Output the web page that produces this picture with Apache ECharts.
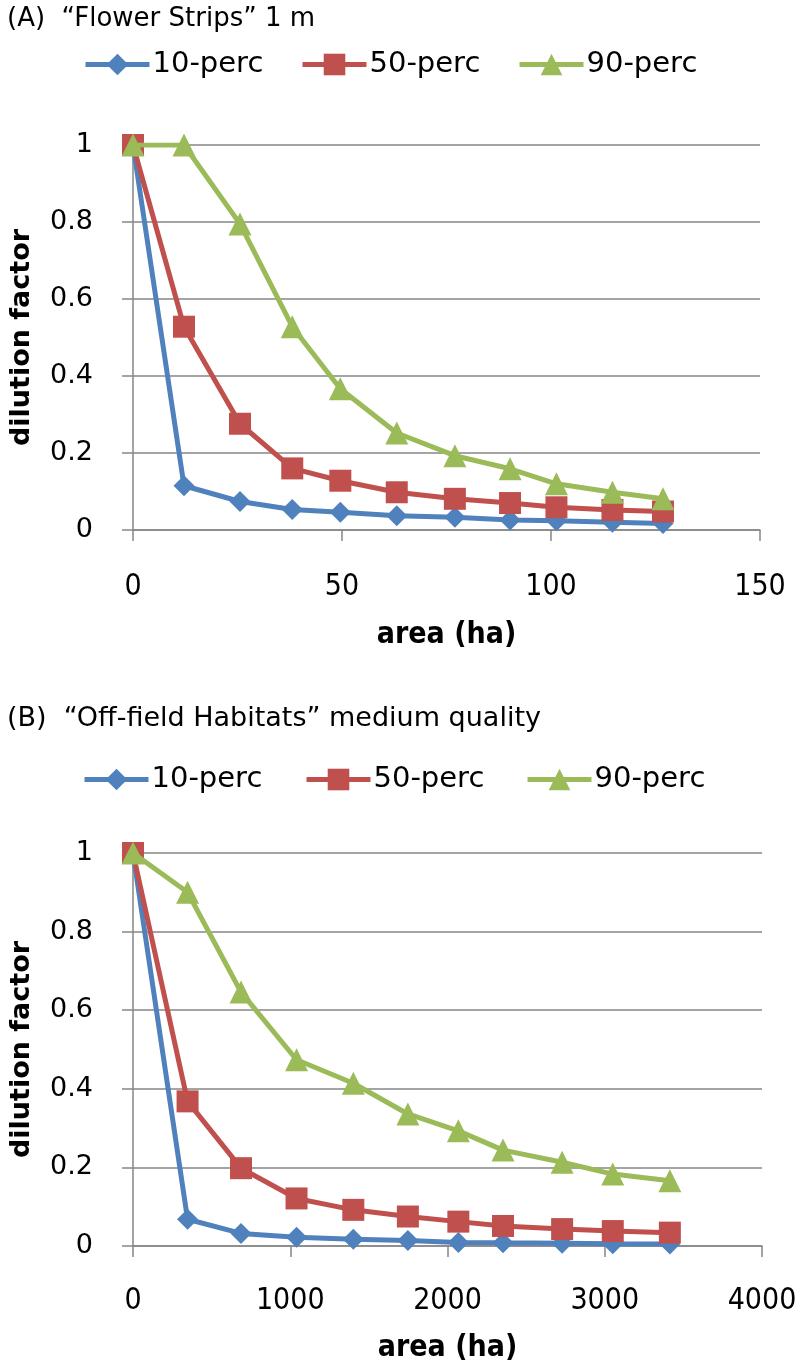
<!DOCTYPE html>
<html>
<head>
<meta charset="utf-8">
<script src="https://cdn.jsdelivr.net/npm/echarts@6/dist/echarts.min.js"></script>
<style>html,body{margin:0;padding:0;background:#fff}#c{width:800px;height:1368px}</style>
</head>
<body>
<div id="c"></div>
<script>
// ---- data ----
const seriesNames = ['10-perc', '50-perc', '90-perc'];
const areaA = [0, 12.2, 25.6, 38.1, 49.6, 63.1, 77.0, 90.2, 101.3, 114.7, 126.8];
const p10A = [1, 0.115, 0.074, 0.053, 0.046, 0.037, 0.033, 0.026, 0.024, 0.020, 0.017];
const p50A = [1, 0.528, 0.276, 0.160, 0.128, 0.098, 0.081, 0.070, 0.059, 0.052, 0.048];
const p90A = [1, 1, 0.795, 0.528, 0.367, 0.252, 0.193, 0.159, 0.120, 0.098, 0.081];

const areaB = [0, 347, 687, 1040, 1401, 1748, 2069, 2353, 2729, 3051, 3414];
const p10B = [1, 0.068, 0.032, 0.022, 0.017, 0.014, 0.009, 0.008, 0.007, 0.006, 0.005];
const p50B = [1, 0.368, 0.198, 0.121, 0.092, 0.075, 0.062, 0.051, 0.043, 0.038, 0.034];
const p90B = [1, 0.900, 0.646, 0.474, 0.414, 0.336, 0.293, 0.244, 0.213, 0.183, 0.166];

const titleA = '(A)  \u201cFlower Strips\u201d 1 m';
const titleB = '(B)  \u201cOff-field Habitats\u201d medium quality';
const xNameText = 'area (ha)';
const yNameText = 'dilution factor';

// ---- styling ----
const colors = ['#4F81BD', '#C0504D', '#9BBB59'];
const symbols = ['diamond', 'rect', 'triangle'];
const symSizes = [21, 22, 23];
const grey = '#868686';
const F = "'DejaVu Sans', Verdana, sans-serif";
const FC = "'DejaVu Sans Condensed', 'DejaVu Sans', sans-serif";

function pairs(xs, ys) { return xs.map((x, i) => [x, ys[i]]); }

function mkSeries(name, idx, xs, ys, axisIdx) {
  return {
    name: name, type: 'line', xAxisIndex: axisIdx, yAxisIndex: axisIdx,
    data: pairs(xs, ys), symbol: symbols[idx], symbolSize: symSizes[idx],
    showAllSymbol: true, animation: false,
    lineStyle: { color: colors[idx], width: 5 },
    itemStyle: { color: colors[idx], borderWidth: 0 },
    emphasis: { disabled: true }, z: 3 + idx
  };
}

function xAxis(gi, max, interval, margin, nameGap) {
  return {
    type: 'value', gridIndex: gi, min: 0, max: max, interval: interval,
    name: xNameText, nameLocation: 'middle', nameGap: nameGap, nameMoveOverlap: false,
    nameTextStyle: { fontFamily: FC, fontSize: 30, fontWeight: 'bold', color: '#000' },
    axisLine: { show: true, lineStyle: { color: grey, width: 1.5 } },
    axisTick: { show: true, inside: false, length: 11, lineStyle: { color: grey, width: 1.5 } },
    axisLabel: { fontFamily: FC, fontSize: 30, color: '#000', margin: margin, hideOverlap: false,
      showMaxLabel: true, showMinLabel: true, formatter: v => String(v) },
    splitLine: { show: false }
  };
}
function yAxis(gi) {
  return {
    type: 'value', gridIndex: gi, min: 0, max: 1, interval: 0.2,
    name: yNameText, nameLocation: 'middle', nameGap: 98, nameRotate: 90, nameMoveOverlap: false,
    nameTextStyle: { fontFamily: F, fontSize: 27, fontWeight: 'bold', color: '#000' },
    axisLine: { show: true, lineStyle: { color: grey, width: 1.5 } },
    axisTick: { show: true, inside: false, length: 11, lineStyle: { color: grey, width: 1.5 } },
    axisLabel: { fontFamily: F, fontSize: 27, color: '#000', margin: 40, hideOverlap: false,
      showMaxLabel: true, showMinLabel: true },
    splitLine: { show: true, lineStyle: { color: grey, width: 1.5 } }
  };
}

function legendItem(name, left, top) {
  return {
    data: [name], left: left, top: top, orient: 'horizontal', padding: 0,
    itemWidth: 64, itemHeight: 27, itemGap: 0, selectedMode: false,
    lineStyle: { width: 5 },
    textStyle: { fontFamily: F, fontSize: 29, color: '#000', padding: [0, 0, 0, -2] }
  };
}

const chart = echarts.init(document.getElementById('c'), null, { renderer: 'canvas' });
chart.setOption({
  animation: false,
  backgroundColor: '#fff',
  title: [
    { text: titleA, left: 7, top: 6, padding: 0, textStyle: { fontFamily: F, fontSize: 26, fontWeight: 'normal', color: '#000' } },
    { text: titleB, left: 7, top: 705, padding: 0, textStyle: { fontFamily: F, fontSize: 27, fontWeight: 'normal', color: '#000' } }
  ],
  legend: [
    legendItem(seriesNames[0], 83, 50),
    legendItem(seriesNames[1], 300, 50),
    legendItem(seriesNames[2], 517, 50),
    legendItem(seriesNames[0], 82, 765),
    legendItem(seriesNames[1], 304, 765),
    legendItem(seriesNames[2], 525, 765)
  ],
  grid: [
    { left: 128, top: 145, width: 632, height: 385, containLabel: false },
    { left: 128, top: 853, width: 634, height: 393, containLabel: false }
  ],
  xAxis: [xAxis(0, 150, 50, 42, 90), xAxis(1, 4000, 1000, 40, 87)],
  yAxis: [yAxis(0), yAxis(1)],
  series: [
    mkSeries(seriesNames[0], 0, areaA, p10A, 0),
    mkSeries(seriesNames[1], 1, areaA, p50A, 0),
    mkSeries(seriesNames[2], 2, areaA, p90A, 0),
    mkSeries(seriesNames[0], 0, areaB, p10B, 1),
    mkSeries(seriesNames[1], 1, areaB, p50B, 1),
    mkSeries(seriesNames[2], 2, areaB, p90B, 1)
  ]
});
</script>
</body>
</html>
